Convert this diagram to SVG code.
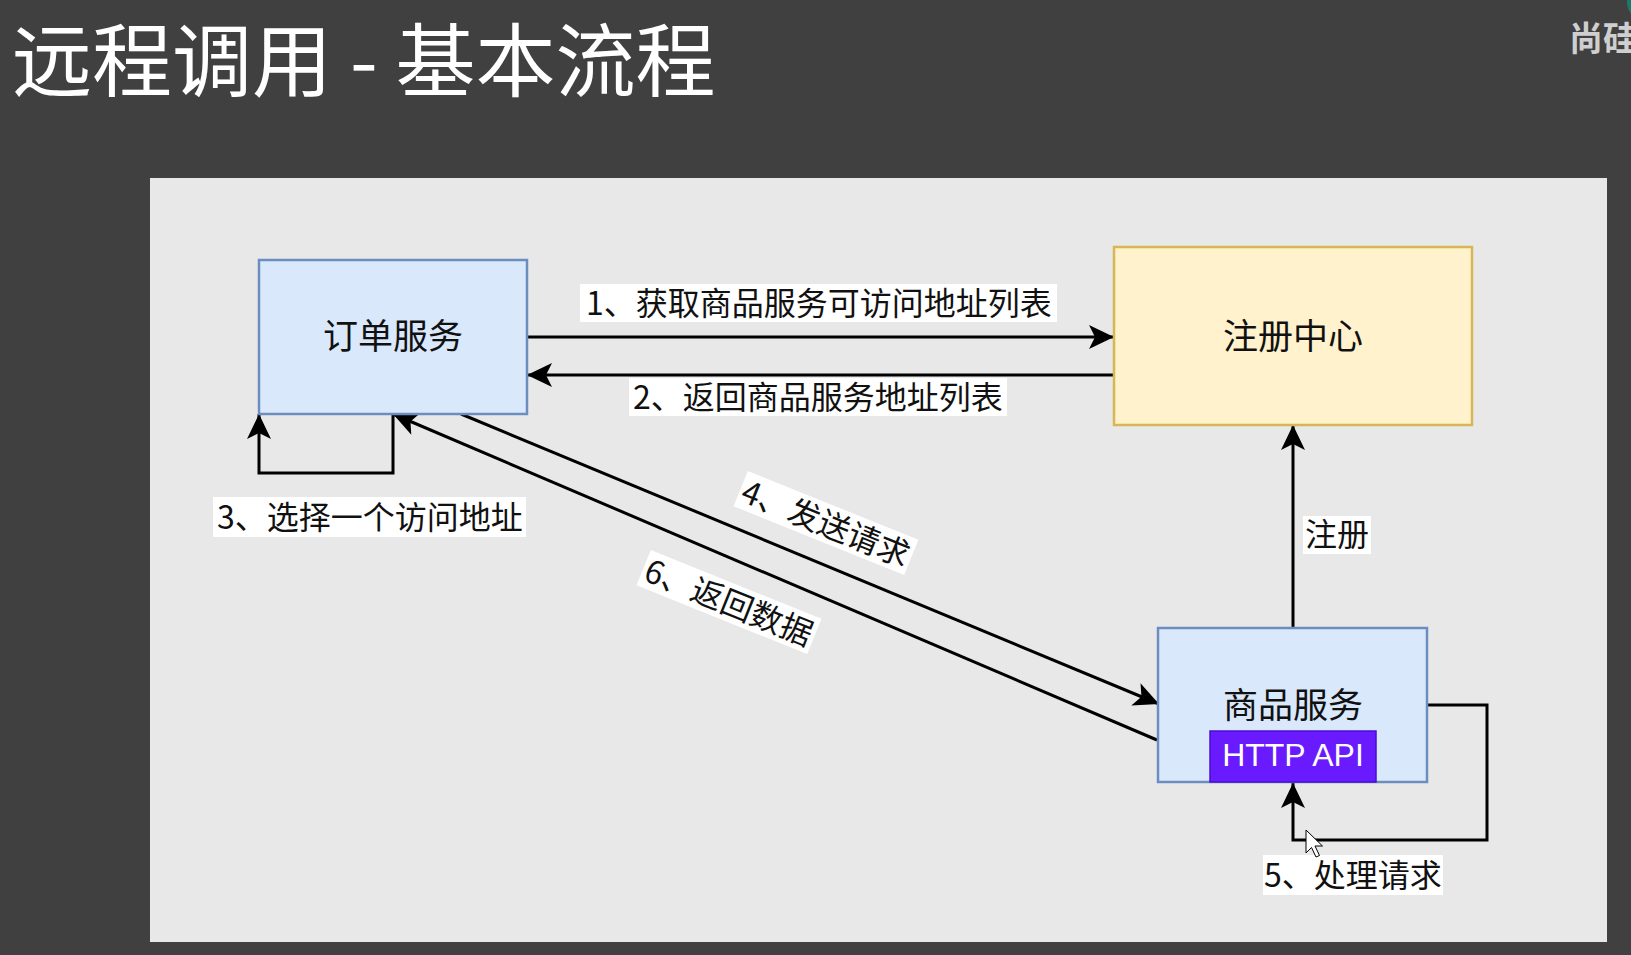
<svg xmlns="http://www.w3.org/2000/svg" width="1631" height="955" viewBox="0 0 1631 955">
<style>
.t{font-family:"Noto Sans CJK SC","Liberation Sans",sans-serif;}
.node-text{font-size:35px;fill:#111;text-anchor:middle;dominant-baseline:central;}
.lbl{font-size:32px;fill:#111;text-anchor:middle;dominant-baseline:central;}
.lblbg{fill:#ffffff;}
.blue{fill:#dae8fc;stroke:#6c8ebf;stroke-width:2.5;}
.yellow{fill:#fff2cc;stroke:#d6b656;stroke-width:2.5;}
.edge{fill:none;stroke:#000;stroke-width:3;}
</style>
<defs>
<marker id="ah" markerUnits="userSpaceOnUse" markerWidth="28" markerHeight="28" viewBox="0 0 28 28" refX="26" refY="14" orient="auto">
<path d="M26,14 L1,2 L7,14 L1,26 Z" fill="#000"/>
</marker>
</defs>
<rect x="0" y="0" width="1631" height="955" fill="#404040"/>
<text class="t" x="12" y="55" font-size="80" fill="#ffffff" dominant-baseline="central">远程调用 - 基本流程</text>
<circle cx="1646" cy="2" r="19" fill="#1a7a6a"/>
<text class="t" x="1569" y="36" font-size="34" font-weight="bold" fill="#cfcfcf" dominant-baseline="central">尚硅</text>
<rect x="150" y="178" width="1457" height="764" fill="#e8e8e8"/>

<g id="connectors">
<path class="edge" d="M527,337 H1114" marker-end="url(#ah)"/>
<path class="edge" d="M1114,375 H527" marker-end="url(#ah)"/>
<path class="edge" d="M393,414 V473 H259 V414" marker-end="url(#ah)"/>
<path class="edge" d="M461,414 L1159,704" marker-end="url(#ah)"/>
<path class="edge" d="M1157,740 L393,414" marker-end="url(#ah)"/>
<path class="edge" d="M1293,628 V425" marker-end="url(#ah)"/>
<path class="edge" d="M1427,705 H1487 V840 H1293 V783" marker-end="url(#ah)"/>
</g>

<g id="order-service">
<rect class="blue" x="259" y="260" width="268" height="154"/>
<text class="t node-text" x="393" y="333">订单服务</text>
</g>
<g id="registry">
<rect class="yellow" x="1114" y="247" width="358" height="178"/>
<text class="t node-text" x="1293" y="333">注册中心</text>
</g>
<g id="goods-service">
<rect class="blue" x="1158" y="628" width="269" height="154"/>
<text class="t node-text" x="1293" y="702">商品服务</text>
<rect x="1210" y="731" width="166" height="51" fill="#6a1aff" stroke="#4a0fd0" stroke-width="1.5"/>
<text x="1293" y="766" font-family="Liberation Sans, Arial, sans-serif" font-size="32" fill="#ffffff" text-anchor="middle">HTTP API</text>
</g>

<g id="label-1">
<rect class="lblbg" x="580" y="284" width="477" height="38"/>
<text class="t lbl" x="819" y="301">1、获取商品服务可访问地址列表</text>
</g>
<g id="label-2">
<rect class="lblbg" x="629" y="378" width="378" height="38"/>
<text class="t lbl" x="818" y="395">2、返回商品服务地址列表</text>
</g>
<g id="label-3">
<rect class="lblbg" x="213" y="497" width="313" height="40"/>
<text class="t lbl" x="370" y="515">3、选择一个访问地址</text>
</g>
<g id="label-4" transform="translate(826,523) rotate(22)">
<rect class="lblbg" x="-92" y="-19" width="184" height="38"/>
<text class="t lbl" x="0" y="-2">4、发送请求</text>
</g>
<g id="label-6" transform="translate(729,602) rotate(22)">
<rect class="lblbg" x="-92" y="-19" width="184" height="38"/>
<text class="t lbl" x="0" y="-2">6、返回数据</text>
</g>
<g id="label-reg">
<rect class="lblbg" x="1303" y="516" width="68" height="38"/>
<text class="t lbl" x="1337" y="532">注册</text>
</g>
<g id="label-5">
<rect class="lblbg" x="1263" y="855" width="180" height="40"/>
<text class="t lbl" x="1353" y="873">5、处理请求</text>
</g>

<polygon points="1306,830 1306,853 1311.5,847.5 1316,857 1319.5,855.5 1315,846 1322.5,846 Z" fill="#ffffff" stroke="#000" stroke-width="1"/>
</svg>
